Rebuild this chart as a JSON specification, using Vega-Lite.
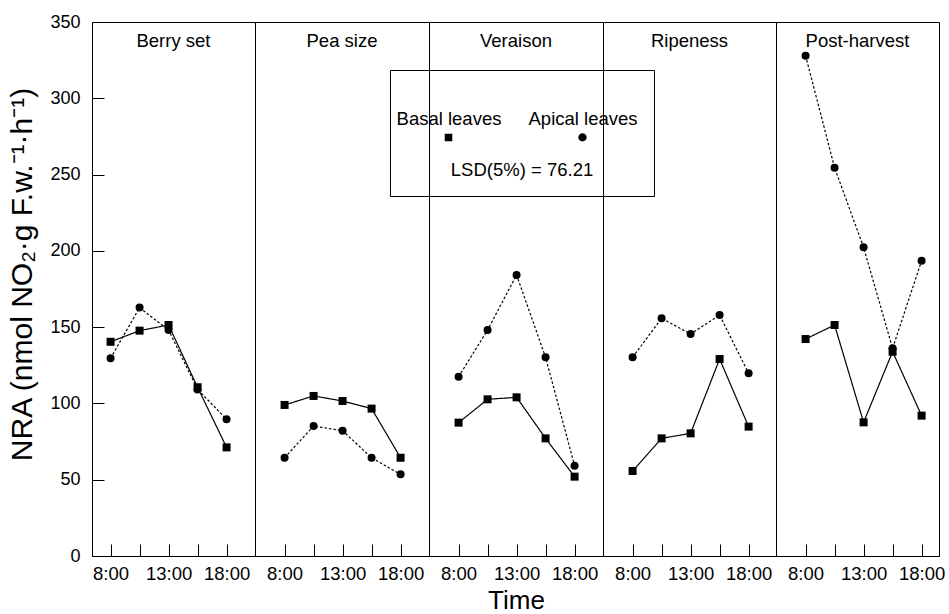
{
  "$schema": "https://vega.github.io/schema/vega-lite/v6.json",
  "padding": {"left": 7, "top": 12, "right": 0, "bottom": 0},
  "spacing": 0,
  "bounds": "flush",
  "resolve": {"legend": {"shape": "independent", "strokeDash": "independent"}},
  "config": {
    "font": "Liberation Sans",
    "view": {"stroke": "black", "strokeWidth": 1},
    "axis": {"domainColor": "black", "tickColor": "black", "labelColor": "black", "titleColor": "black", "grid": false, "labelFont": "Liberation Sans", "titleFont": "Liberation Sans", "titleFontWeight": "normal", "tickWidth": 1, "tickSize": -12},
    "title": {"font": "Liberation Sans", "fontSize": 18.5, "fontWeight": "normal", "color": "black", "anchor": "middle", "baseline": "alphabetic", "offset": -28}
  },
  "data": {"values": [
    {"stage": "Berry set", "time": 8, "leaf": "Basal leaves", "nra": 140.4},
    {"stage": "Berry set", "time": 10.5, "leaf": "Basal leaves", "nra": 147.7},
    {"stage": "Berry set", "time": 13, "leaf": "Basal leaves", "nra": 151.4},
    {"stage": "Berry set", "time": 15.5, "leaf": "Basal leaves", "nra": 110.6},
    {"stage": "Berry set", "time": 18, "leaf": "Basal leaves", "nra": 71.2},
    {"stage": "Berry set", "time": 8, "leaf": "Apical leaves", "nra": 129.6},
    {"stage": "Berry set", "time": 10.5, "leaf": "Apical leaves", "nra": 162.8},
    {"stage": "Berry set", "time": 13, "leaf": "Apical leaves", "nra": 148.1},
    {"stage": "Berry set", "time": 15.5, "leaf": "Apical leaves", "nra": 109.2},
    {"stage": "Berry set", "time": 18, "leaf": "Apical leaves", "nra": 89.6},
    {"stage": "Pea size", "time": 8, "leaf": "Basal leaves", "nra": 99.0},
    {"stage": "Pea size", "time": 10.5, "leaf": "Basal leaves", "nra": 104.9},
    {"stage": "Pea size", "time": 13, "leaf": "Basal leaves", "nra": 101.6},
    {"stage": "Pea size", "time": 15.5, "leaf": "Basal leaves", "nra": 96.6},
    {"stage": "Pea size", "time": 18, "leaf": "Basal leaves", "nra": 64.4},
    {"stage": "Pea size", "time": 8, "leaf": "Apical leaves", "nra": 64.4},
    {"stage": "Pea size", "time": 10.5, "leaf": "Apical leaves", "nra": 85.2},
    {"stage": "Pea size", "time": 13, "leaf": "Apical leaves", "nra": 82.1},
    {"stage": "Pea size", "time": 15.5, "leaf": "Apical leaves", "nra": 64.4},
    {"stage": "Pea size", "time": 18, "leaf": "Apical leaves", "nra": 53.5},
    {"stage": "Veraison", "time": 8, "leaf": "Basal leaves", "nra": 87.4},
    {"stage": "Veraison", "time": 10.5, "leaf": "Basal leaves", "nra": 102.7},
    {"stage": "Veraison", "time": 13, "leaf": "Basal leaves", "nra": 104.0},
    {"stage": "Veraison", "time": 15.5, "leaf": "Basal leaves", "nra": 77.1},
    {"stage": "Veraison", "time": 18, "leaf": "Basal leaves", "nra": 52.0},
    {"stage": "Veraison", "time": 8, "leaf": "Apical leaves", "nra": 117.5},
    {"stage": "Veraison", "time": 10.5, "leaf": "Apical leaves", "nra": 148.1},
    {"stage": "Veraison", "time": 13, "leaf": "Apical leaves", "nra": 184.2},
    {"stage": "Veraison", "time": 15.5, "leaf": "Apical leaves", "nra": 130.2},
    {"stage": "Veraison", "time": 18, "leaf": "Apical leaves", "nra": 59.2},
    {"stage": "Ripeness", "time": 8, "leaf": "Basal leaves", "nra": 55.7},
    {"stage": "Ripeness", "time": 10.5, "leaf": "Basal leaves", "nra": 77.1},
    {"stage": "Ripeness", "time": 13, "leaf": "Basal leaves", "nra": 80.4},
    {"stage": "Ripeness", "time": 15.5, "leaf": "Basal leaves", "nra": 129.1},
    {"stage": "Ripeness", "time": 18, "leaf": "Basal leaves", "nra": 84.8},
    {"stage": "Ripeness", "time": 8, "leaf": "Apical leaves", "nra": 130.2},
    {"stage": "Ripeness", "time": 10.5, "leaf": "Apical leaves", "nra": 155.8},
    {"stage": "Ripeness", "time": 13, "leaf": "Apical leaves", "nra": 145.5},
    {"stage": "Ripeness", "time": 15.5, "leaf": "Apical leaves", "nra": 157.9},
    {"stage": "Ripeness", "time": 18, "leaf": "Apical leaves", "nra": 119.7},
    {"stage": "Post-harvest", "time": 8, "leaf": "Basal leaves", "nra": 142.2},
    {"stage": "Post-harvest", "time": 10.5, "leaf": "Basal leaves", "nra": 151.4},
    {"stage": "Post-harvest", "time": 13, "leaf": "Basal leaves", "nra": 87.6},
    {"stage": "Post-harvest", "time": 15.5, "leaf": "Basal leaves", "nra": 133.9},
    {"stage": "Post-harvest", "time": 18, "leaf": "Basal leaves", "nra": 92.0},
    {"stage": "Post-harvest", "time": 8, "leaf": "Apical leaves", "nra": 327.9},
    {"stage": "Post-harvest", "time": 10.5, "leaf": "Apical leaves", "nra": 254.5},
    {"stage": "Post-harvest", "time": 13, "leaf": "Apical leaves", "nra": 202.3},
    {"stage": "Post-harvest", "time": 15.5, "leaf": "Apical leaves", "nra": 136.1},
    {"stage": "Post-harvest", "time": 18, "leaf": "Apical leaves", "nra": 193.5}
  ]},
  "hconcat": [
    {
      "width": 163, "height": 534,
      "title": {"text": "Berry set", "offset": -37},
      "transform": [{"filter": "datum.stage === 'Berry set'"}],
      "layer": [
        {"mark": {"type": "line", "color": "black", "strokeWidth": 1.2},
         "encoding": {
           "x": {"field": "time", "type": "quantitative", "scale": {"domain": [6.4, 20.45], "nice": false, "zero": false},
                 "axis": {"values": [8, 10.5, 13, 15.5, 18], "labelExpr": "datum.value % 5 === 3 ? datum.value + ':00' : ''", "labelPadding": 20, "labelFontSize": 18.5, "title": null, "encode": {"ticks": {"y2": {"signal": "datum.value % 5 === 3 ? 12 : 7"}}}}},
           "y": {"field": "nra", "type": "quantitative", "scale": {"domain": [0, 350], "nice": false},
                 "axis": {"values": [0, 25, 50, 75, 100, 125, 150, 175, 200, 225, 250, 275, 300, 325, 350], "labelExpr": "datum.value % 50 === 0 ? datum.label : ''", "labelPadding": 24, "labelFontSize": 18, "title": "NRA (nmol NO₂·g F.w.⁻¹·h⁻¹)", "titleFontSize": 30, "titlePadding": 12, "titleY": 252, "encode": {"ticks": {"x2": {"signal": "datum.value % 50 === 0 ? -12 : -5"}}}}},
           "strokeDash": {"field": "leaf", "type": "nominal", "scale": {"domain": ["Basal leaves", "Apical leaves"], "range": [[1, 0], [2.5, 2]]},
                          "legend": {"orient": "none", "legendX": 298, "legendY": 48, "direction": "horizontal", "title": "LSD(5%) = 76.21", "titleOrient": "bottom", "titleAnchor": "middle", "titleFontSize": 18.5, "titleFontWeight": "normal", "titleColor": "black", "titlePadding": 17, "labelFontSize": 18.5, "labelColor": "black", "labelAlign": "center", "labelBaseline": "bottom", "labelOffset": -42, "symbolSize": 7056, "symbolStrokeWidth": 1, "symbolOpacity": 1, "symbolFillColor": "black", "symbolStrokeColor": "black", "columnPadding": 26, "padding": 16, "fillColor": "white", "strokeColor": "black"}}
         }},
        {"transform": [{"filter": "datum.leaf === 'Basal leaves'"}],
         "mark": {"type": "point", "shape": "square", "filled": true, "color": "black", "size": 64, "opacity": 1},
         "encoding": {"x": {"field": "time", "type": "quantitative"}, "y": {"field": "nra", "type": "quantitative"}}},
        {"transform": [{"filter": "datum.leaf === 'Apical leaves'"}],
         "mark": {"type": "point", "shape": "circle", "filled": true, "color": "black", "size": 64, "opacity": 1},
         "encoding": {"x": {"field": "time", "type": "quantitative"}, "y": {"field": "nra", "type": "quantitative"}}},
        {"mark": {"type": "point", "filled": true, "fill": "black", "stroke": "black", "strokeWidth": 1, "opacity": 0, "size": 64},
         "encoding": {
           "x": {"field": "time", "type": "quantitative"},
           "y": {"field": "nra", "type": "quantitative"},
           "shape": {"field": "leaf", "type": "nominal", "scale": {"domain": ["Basal leaves", "Apical leaves"], "range": ["M-1,0.2H1M-0.09,0.11H0.09V0.29H-0.09Z", "M-1,0.2H1M-0.1,0.2A0.1,0.1,0,1,1,0.1,0.2A0.1,0.1,0,1,1,-0.1,0.2Z"]},
                     "legend": {"orient": "none", "legendX": 298, "legendY": 48, "direction": "horizontal", "title": "LSD(5%) = 76.21", "titleOrient": "bottom", "titleAnchor": "middle", "titleFontSize": 18.5, "titleFontWeight": "normal", "titleColor": "black", "titlePadding": 17, "labelFontSize": 18.5, "labelColor": "black", "labelAlign": "center", "labelBaseline": "bottom", "labelOffset": -42, "symbolSize": 7056, "symbolStrokeWidth": 1, "symbolOpacity": 1, "symbolFillColor": "black", "symbolStrokeColor": "black", "columnPadding": 26, "padding": 16, "fillColor": "white", "strokeColor": "black"}}
         }}
      ]
    },
    {
      "width": 174, "height": 534,
      "title": {"text": "Pea size"},
      "transform": [{"filter": "datum.stage === 'Pea size'"}],
      "layer": [
        {"mark": {"type": "line", "color": "black", "strokeWidth": 1.2},
         "encoding": {
           "x": {"field": "time", "type": "quantitative", "scale": {"domain": [5.45, 20.45], "nice": false, "zero": false},
                 "axis": {"values": [8, 10.5, 13, 15.5, 18], "labelExpr": "datum.value % 5 === 3 ? datum.value + ':00' : ''", "labelPadding": 20, "labelFontSize": 18.5, "title": null, "encode": {"ticks": {"y2": {"signal": "datum.value % 5 === 3 ? 12 : 7"}}}}},
           "y": {"field": "nra", "type": "quantitative", "scale": {"domain": [0, 350], "nice": false}, "axis": null},
           "strokeDash": {"field": "leaf", "type": "nominal", "scale": {"domain": ["Basal leaves", "Apical leaves"], "range": [[1, 0], [2.5, 2]]}, "legend": null}
         }},
        {"transform": [{"filter": "datum.leaf === 'Basal leaves'"}],
         "mark": {"type": "point", "shape": "square", "filled": true, "color": "black", "size": 64, "opacity": 1},
         "encoding": {"x": {"field": "time", "type": "quantitative"}, "y": {"field": "nra", "type": "quantitative"}}},
        {"transform": [{"filter": "datum.leaf === 'Apical leaves'"}],
         "mark": {"type": "point", "shape": "circle", "filled": true, "color": "black", "size": 64, "opacity": 1},
         "encoding": {"x": {"field": "time", "type": "quantitative"}, "y": {"field": "nra", "type": "quantitative"}}}
      ]
    },
    {
      "width": 174, "height": 534,
      "title": {"text": "Veraison"},
      "transform": [{"filter": "datum.stage === 'Veraison'"}],
      "layer": [
        {"mark": {"type": "line", "color": "black", "strokeWidth": 1.2},
         "encoding": {
           "x": {"field": "time", "type": "quantitative", "scale": {"domain": [5.45, 20.45], "nice": false, "zero": false},
                 "axis": {"values": [8, 10.5, 13, 15.5, 18], "labelExpr": "datum.value % 5 === 3 ? datum.value + ':00' : ''", "labelPadding": 20, "labelFontSize": 18.5, "title": "Time", "titleFontSize": 26, "titlePadding": 5, "encode": {"ticks": {"y2": {"signal": "datum.value % 5 === 3 ? 12 : 7"}}}}},
           "y": {"field": "nra", "type": "quantitative", "scale": {"domain": [0, 350], "nice": false}, "axis": null},
           "strokeDash": {"field": "leaf", "type": "nominal", "scale": {"domain": ["Basal leaves", "Apical leaves"], "range": [[1, 0], [2.5, 2]]}, "legend": null}
         }},
        {"transform": [{"filter": "datum.leaf === 'Basal leaves'"}],
         "mark": {"type": "point", "shape": "square", "filled": true, "color": "black", "size": 64, "opacity": 1},
         "encoding": {"x": {"field": "time", "type": "quantitative"}, "y": {"field": "nra", "type": "quantitative"}}},
        {"transform": [{"filter": "datum.leaf === 'Apical leaves'"}],
         "mark": {"type": "point", "shape": "circle", "filled": true, "color": "black", "size": 64, "opacity": 1},
         "encoding": {"x": {"field": "time", "type": "quantitative"}, "y": {"field": "nra", "type": "quantitative"}}}
      ]
    },
    {
      "width": 173, "height": 534,
      "title": {"text": "Ripeness"},
      "transform": [{"filter": "datum.stage === 'Ripeness'"}],
      "layer": [
        {"mark": {"type": "line", "color": "black", "strokeWidth": 1.2},
         "encoding": {
           "x": {"field": "time", "type": "quantitative", "scale": {"domain": [5.45, 20.36], "nice": false, "zero": false},
                 "axis": {"values": [8, 10.5, 13, 15.5, 18], "labelExpr": "datum.value % 5 === 3 ? datum.value + ':00' : ''", "labelPadding": 20, "labelFontSize": 18.5, "title": null, "encode": {"ticks": {"y2": {"signal": "datum.value % 5 === 3 ? 12 : 7"}}}}},
           "y": {"field": "nra", "type": "quantitative", "scale": {"domain": [0, 350], "nice": false}, "axis": null},
           "strokeDash": {"field": "leaf", "type": "nominal", "scale": {"domain": ["Basal leaves", "Apical leaves"], "range": [[1, 0], [2.5, 2]]}, "legend": null}
         }},
        {"transform": [{"filter": "datum.leaf === 'Basal leaves'"}],
         "mark": {"type": "point", "shape": "square", "filled": true, "color": "black", "size": 64, "opacity": 1},
         "encoding": {"x": {"field": "time", "type": "quantitative"}, "y": {"field": "nra", "type": "quantitative"}}},
        {"transform": [{"filter": "datum.leaf === 'Apical leaves'"}],
         "mark": {"type": "point", "shape": "circle", "filled": true, "color": "black", "size": 64, "opacity": 1},
         "encoding": {"x": {"field": "time", "type": "quantitative"}, "y": {"field": "nra", "type": "quantitative"}}}
      ]
    },
    {
      "width": 163, "height": 534,
      "title": {"text": "Post-harvest"},
      "transform": [{"filter": "datum.stage === 'Post-harvest'"}],
      "layer": [
        {"mark": {"type": "line", "color": "black", "strokeWidth": 1.2},
         "encoding": {
           "x": {"field": "time", "type": "quantitative", "scale": {"domain": [5.45, 19.5], "nice": false, "zero": false},
                 "axis": {"values": [8, 10.5, 13, 15.5, 18], "labelExpr": "datum.value % 5 === 3 ? datum.value + ':00' : ''", "labelPadding": 20, "labelFontSize": 18.5, "title": null, "encode": {"ticks": {"y2": {"signal": "datum.value % 5 === 3 ? 12 : 7"}}}}},
           "y": {"field": "nra", "type": "quantitative", "scale": {"domain": [0, 350], "nice": false}, "axis": null},
           "strokeDash": {"field": "leaf", "type": "nominal", "scale": {"domain": ["Basal leaves", "Apical leaves"], "range": [[1, 0], [2.5, 2]]}, "legend": null}
         }},
        {"transform": [{"filter": "datum.leaf === 'Basal leaves'"}],
         "mark": {"type": "point", "shape": "square", "filled": true, "color": "black", "size": 64, "opacity": 1},
         "encoding": {"x": {"field": "time", "type": "quantitative"}, "y": {"field": "nra", "type": "quantitative"}}},
        {"transform": [{"filter": "datum.leaf === 'Apical leaves'"}],
         "mark": {"type": "point", "shape": "circle", "filled": true, "color": "black", "size": 64, "opacity": 1},
         "encoding": {"x": {"field": "time", "type": "quantitative"}, "y": {"field": "nra", "type": "quantitative"}}}
      ]
    }
  ]
}
